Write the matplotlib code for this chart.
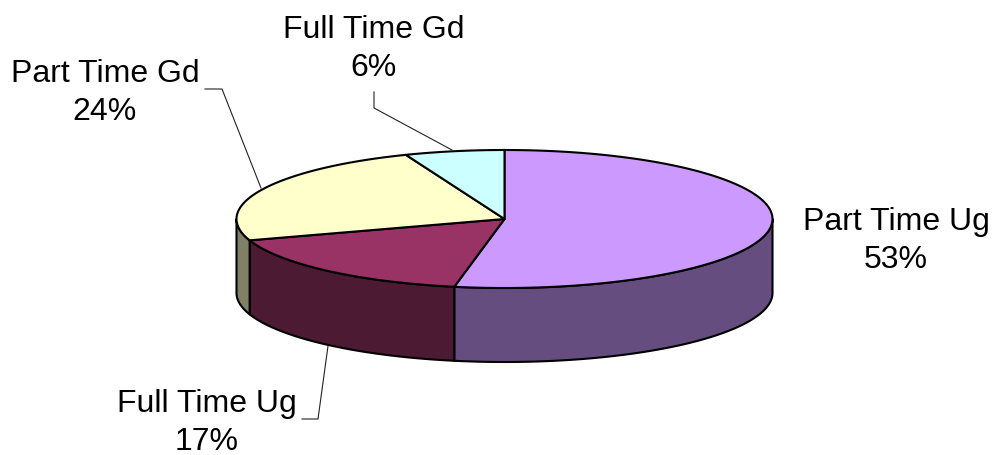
import matplotlib
matplotlib.use("Agg")
import matplotlib.pyplot as plt
import numpy as np
from matplotlib.patches import Polygon

categories = ["Part Time Ug", "Full Time Ug", "Part Time Gd", "Full Time Gd"]
shares = [53, 17, 24, 6]
top_colors = ["#CC99FF", "#993366", "#FFFFCC", "#CCFFFF"]
side_colors = ["#664D80", "#4D1A33", "#808066", "#668080"]

# pie geometry in pixels
cx, cy = 504.5, 220
rx, ry = 268, 69
depth = 74


def rim(a0, a1, n=200):
    # angles run clockwise from 12 o'clock
    t = np.linspace(a0, a1, n)
    return cx + rx * np.sin(t), cy - ry * np.cos(t)


plt.rcParams["font.family"] = ["Liberation Sans", "DejaVu Sans"]
fig = plt.figure(figsize=(9.98, 4.56), dpi=100)
ax = fig.add_axes([0, 0, 1, 1])
ax.set_xlim(0, 998)
ax.set_ylim(456, 0)
ax.axis("off")

edges = np.cumsum([0] + shares) / sum(shares) * 2 * np.pi

# side walls, only the part of the rim facing the viewer
for i in range(len(shares)):
    a0, a1 = edges[i], edges[i + 1]
    a0 = max(a0, np.pi / 2)
    a1 = min(a1, 3 * np.pi / 2)
    if a1 <= a0:
        continue
    x, y = rim(a0, a1)
    pts = np.r_[np.c_[x, y], np.c_[x[::-1], y[::-1] + depth]]
    ax.add_patch(Polygon(pts, closed=True, fc=side_colors[i], ec="k", lw=1.5, joinstyle="round"))

# top wedges
for i in range(len(shares)):
    x, y = rim(edges[i], edges[i + 1])
    pts = np.r_[[[cx, cy]], np.c_[x, y]]
    ax.add_patch(Polygon(pts, closed=True, fc=top_colors[i], ec="k", lw=1.5, joinstyle="round"))

# leader lines
leaders = [
    ([328, 318, 302], [347, 420, 420]),
    ([205, 222, 261], [90, 90, 189]),
    ([374, 374, 452], [93, 109, 151]),
]
for lx, ly in leaders:
    ax.plot(lx, ly, color="#222222", lw=0.8)

label_pos = [(896, 241), (207, 423), (105, 93), (374, 49)]
for name, share, (tx, ty) in zip(categories, shares, label_pos):
    ax.text(tx, ty, f"{name}\n{share}%", ha="center", va="center", fontsize=23,
            color="k", linespacing=1.38)

fig.savefig("out.png", dpi=100, facecolor="white")
